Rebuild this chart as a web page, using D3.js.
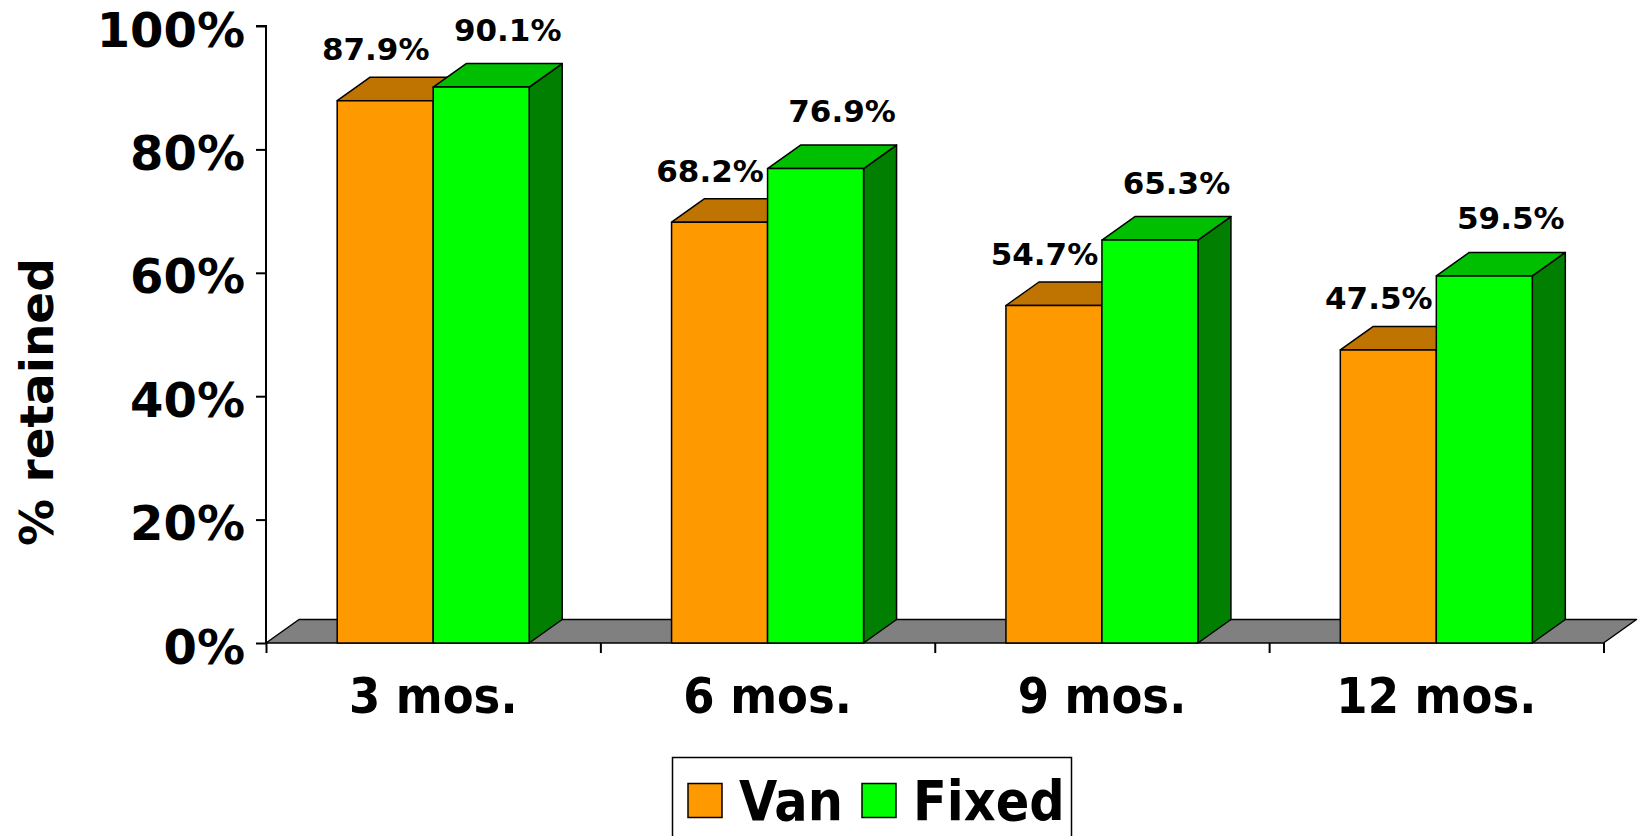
<!DOCTYPE html>
<html>
<head>
<meta charset="utf-8">
<script src="https://cdn.jsdelivr.net/npm/d3@7"></script>
<style>
  body { margin: 0; background: #fff; overflow: hidden; }
  text { font-family: 'DejaVu Sans', Verdana, sans-serif; font-weight: bold; fill: #000; }
  .narrow { font-family: 'DejaVu Sans Condensed', 'DejaVu Sans', sans-serif; }
</style>
</head>
<body>
<script>
const categories = ['3 mos.', '6 mos.', '9 mos.', '12 mos.']
const seriesNames = ['Van', 'Fixed']
const van = [87.9, 68.2, 54.7, 47.5]
const fixed = [90.1, 76.9, 65.3, 59.5]
const yTicks = [0, 20, 40, 60, 80, 100]

const frontColors = { Van: '#ff9900', Fixed: '#00ff00' }
const topColors = { Van: '#bf7300', Fixed: '#00bf00' }
const sideColors = { Van: '#7f4c00', Fixed: '#007f00' }

const width = 1639
const height = 836
const plotLeft = 266, plotRight = 1603.5
const plotBottom = 643, plotTop = 26
const depthX = 33, depthY = -23.5
const barWidth = 96

const svg = d3.select('body').append('svg')
    .attr('width', width)
    .attr('height', height)

const x = d3.scaleBand().domain(categories).range([plotLeft, plotRight])
const bw = x.bandwidth()
const x1 = d3.scaleBand().domain(seriesNames).range([bw / 2 - barWidth, bw / 2 + barWidth])
const y = d3.scaleLinear().domain([0, 100]).range([plotBottom, plotTop])

const rows = categories.map((c, i) => ({ cat: c, Van: van[i], Fixed: fixed[i] }))

// floor
const f = d3.path()
f.moveTo(plotLeft, plotBottom)
f.lineTo(plotRight, plotBottom)
f.lineTo(plotRight + depthX, plotBottom + depthY)
f.lineTo(plotLeft + depthX, plotBottom + depthY)
f.closePath()
svg.append('path')
    .attr('d', f.toString())
    .attr('fill', '#808080')
    .attr('stroke', '#000')
    .attr('stroke-width', 1.5)
    .attr('stroke-linejoin', 'round')

// y axis
const yAxis = svg.append('g')
    .attr('transform', `translate(${plotLeft},0)`)
    .call(d3.axisLeft(y).tickValues(yTicks).tickSize(10).tickPadding(11).tickFormat(d => d + '%'))
yAxis.selectAll('path, line').attr('stroke', '#000').attr('stroke-width', 2)
yAxis.select('.domain').attr('d', `M-10,${y(100)}H0V${plotBottom}`)
yAxis.selectAll('text')
    .attr('font-size', 48)
    .attr('dy', '0.42em')
    .style('font-family', "'DejaVu Sans', sans-serif")
    .style('font-weight', 'bold')
    .attr('fill', '#000')

// x ticks at category boundaries
const xi = d3.scaleLinear().domain([0, categories.length]).range([plotLeft, plotRight])
const xAxis = svg.append('g')
    .attr('transform', `translate(0,${plotBottom})`)
    .call(d3.axisBottom(xi).tickValues(d3.range(categories.length + 1)).tickSize(10).tickFormat(''))
xAxis.select('.domain').remove()
xAxis.selectAll('line').attr('stroke', '#000').attr('stroke-width', 2)

svg.append('g').selectAll('text')
    .data(categories)
    .join('text')
    .attr('class', 'narrow')
    .attr('x', d => x(d) + bw / 2)
    .attr('y', 713)
    .attr('text-anchor', 'middle')
    .attr('font-size', 50)
    .text(d => d)

// bars
const bars = svg.append('g')
rows.forEach(r => {
    seriesNames.forEach(s => {
        const x0 = x(r.cat) + x1(s)
        const x2 = x0 + barWidth
        const yt = y(r[s])
        const g = bars.append('g')
            .attr('stroke', '#000')
            .attr('stroke-width', 1.5)
            .attr('stroke-linejoin', 'round')
        // side
        g.append('path')
            .attr('d', `M${x2},${plotBottom}L${x2 + depthX},${plotBottom + depthY}L${x2 + depthX},${yt + depthY}L${x2},${yt}Z`)
            .attr('fill', sideColors[s])
        // top
        g.append('path')
            .attr('d', `M${x0},${yt}L${x2},${yt}L${x2 + depthX},${yt + depthY}L${x0 + depthX},${yt + depthY}Z`)
            .attr('fill', topColors[s])
        // front
        g.append('rect')
            .attr('x', x0)
            .attr('y', yt)
            .attr('width', barWidth)
            .attr('height', plotBottom - yt)
            .attr('fill', frontColors[s])
    })
})

// value labels
const labelShift = { Van: -26, Fixed: 10 }
const labelLift = { Van: 17, Fixed: 23 }
rows.forEach(r => {
    seriesNames.forEach(s => {
        svg.append('text')
            .attr('x', x(r.cat) + x1(s) + barWidth / 2 + depthX / 2 + labelShift[s])
            .attr('y', y(r[s]) + depthY - labelLift[s])
            .attr('text-anchor', 'middle')
            .attr('font-size', 31)
            .text(r[s].toFixed(1) + '%')
    })
})

// axis title
svg.append('text')
    .attr('transform', 'translate(53,402) rotate(-90)')
    .attr('text-anchor', 'middle')
    .attr('font-size', 47)
    .text('% retained')

// legend
const legend = svg.append('g')
legend.append('rect')
    .attr('x', 672.5)
    .attr('y', 757.5)
    .attr('width', 399)
    .attr('height', 100)
    .attr('fill', '#fff')
    .attr('stroke', '#000')
    .attr('stroke-width', 1.5)
const legendX = { Van: 688, Fixed: 862 }
seriesNames.forEach(s => {
    legend.append('rect')
        .attr('x', legendX[s])
        .attr('y', 783.5)
        .attr('width', 34)
        .attr('height', 34)
        .attr('fill', frontColors[s])
        .attr('stroke', '#000')
        .attr('stroke-width', 1.5)
    legend.append('text')
        .attr('class', 'narrow')
        .attr('x', legendX[s] + 51)
        .attr('y', 820)
        .attr('font-size', 55)
        .text(s)
})
</script>
</body>
</html>
